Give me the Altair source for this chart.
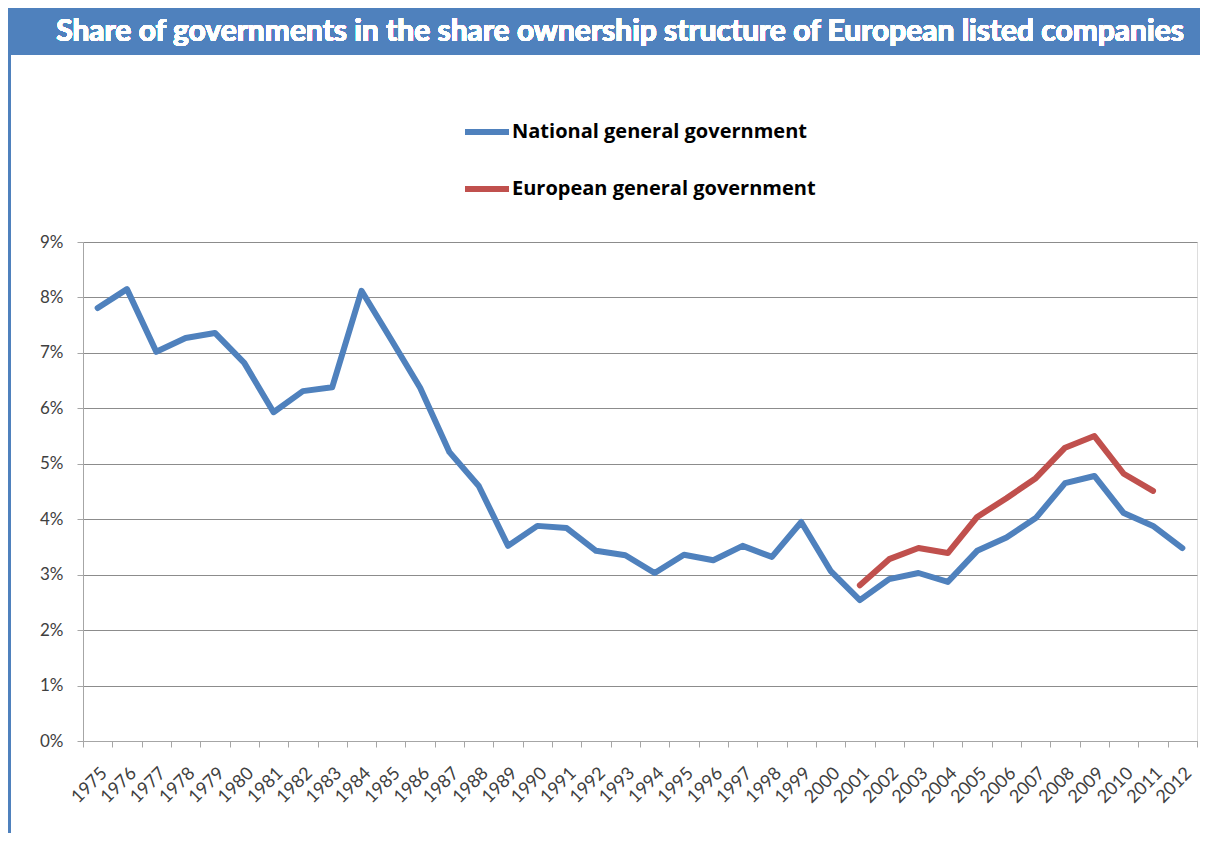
import altair as alt
import pandas as pd

years = list(range(1975, 2013))
national = [7.81, 8.15, 7.02, 7.27, 7.36, 6.82, 5.93, 6.31, 6.38, 8.12,
            7.25, 6.37, 5.21, 4.60, 3.52, 3.88, 3.84, 3.43, 3.35, 3.03,
            3.36, 3.26, 3.52, 3.32, 3.95, 3.07, 2.54, 2.92, 3.03, 2.87,
            3.43, 3.67, 4.02, 4.65, 4.78, 4.11, 3.88, 3.48]
euro_years = list(range(2001, 2012))
european = [2.81, 3.28, 3.48, 3.39, 4.04, 4.38, 4.74, 5.29, 5.50, 4.82, 4.51]

series_names = ["National general government", "European general government"]
series_colors = ["#4F81BD", "#C0504D"]
title_text = "Share of governments in the share ownership structure of European listed companies"

rows = [{"year": str(y), "value": v / 100, "series": series_names[0]} for y, v in zip(years, national)]
rows += [{"year": str(y), "value": v / 100, "series": series_names[1]} for y, v in zip(euro_years, european)]
df = pd.DataFrame(rows)

FONT = "Lato"
PW, PH = 1114, 499
PL, PT = 75, 234

x_enc = alt.X(
    "year:O",
    sort=[str(y) for y in years],
    scale=alt.Scale(type="band", domain=[str(y) for y in years], paddingInner=0, paddingOuter=0),
    bandPosition=0.5,
    axis=alt.Axis(
        title=None, labelAngle=-45, labelFont=FONT, labelFontSize=18, labelColor="#404040",
        tickBand="extent", tickSize=6, tickColor="#A6A6A6", domainColor="#A6A6A6",
        labelPadding=17, grid=False,
    ),
)
y_enc = alt.Y(
    "value:Q",
    scale=alt.Scale(domain=[0, 0.09], nice=False),
    axis=alt.Axis(
        title=None, format=".0%", values=[i / 100 for i in range(10)],
        labelFont=FONT, labelFontSize=17, labelColor="#404040", labelPadding=14,
        tickSize=6, tickColor="#A6A6A6", domainColor="#A6A6A6",
        grid=True, gridColor="#8C8C8C", gridWidth=1,
    ),
)

lines = alt.Chart(df).mark_line(strokeWidth=6, strokeCap="round", strokeJoin="round").encode(
    x=x_enc,
    y=y_enc,
    color=alt.Color(
        "series:N",
        scale=alt.Scale(domain=series_names, range=series_colors),
        legend=alt.Legend(
            title=None, orient="none", legendX=379, legendY=-135, direction="vertical",
            symbolType="stroke", symbolSize=1936, symbolStrokeWidth=6,
            labelFont="Open Sans", labelFontSize=20, labelFontWeight="bold", labelColor="#000000",
            labelOffset=0, rowPadding=20, labelLimit=0,
        ),
    ),
)

bar = alt.Chart(df).mark_rect(color="#4F81BD").encode(
    x=alt.value(-PL), x2=alt.value(1117), y=alt.value(-PT - 1), y2=alt.value(-187)
)
title = alt.Chart(df).mark_text(
    text=title_text, font=FONT, fontSize=30, fontWeight="bold", color="white",
    align="center", baseline="middle",
).encode(x=alt.value(537), y=alt.value(-210))
left_line = alt.Chart(df).mark_rule(color="#4F81BD", strokeWidth=3).encode(
    x=alt.value(-PL + 1.5), y=alt.value(-187), y2=alt.value(592)
)

chart = alt.layer(bar, title, left_line, lines).properties(
    width=PW, height=PH,
    autosize=alt.AutoSizeParams(type="none"),
    padding={"left": PL, "top": PT, "right": 20, "bottom": 92},
).configure_view(stroke=None).configure(background="white")

chart.save("out.html", embed_options={"renderer": "svg", "actions": False})
